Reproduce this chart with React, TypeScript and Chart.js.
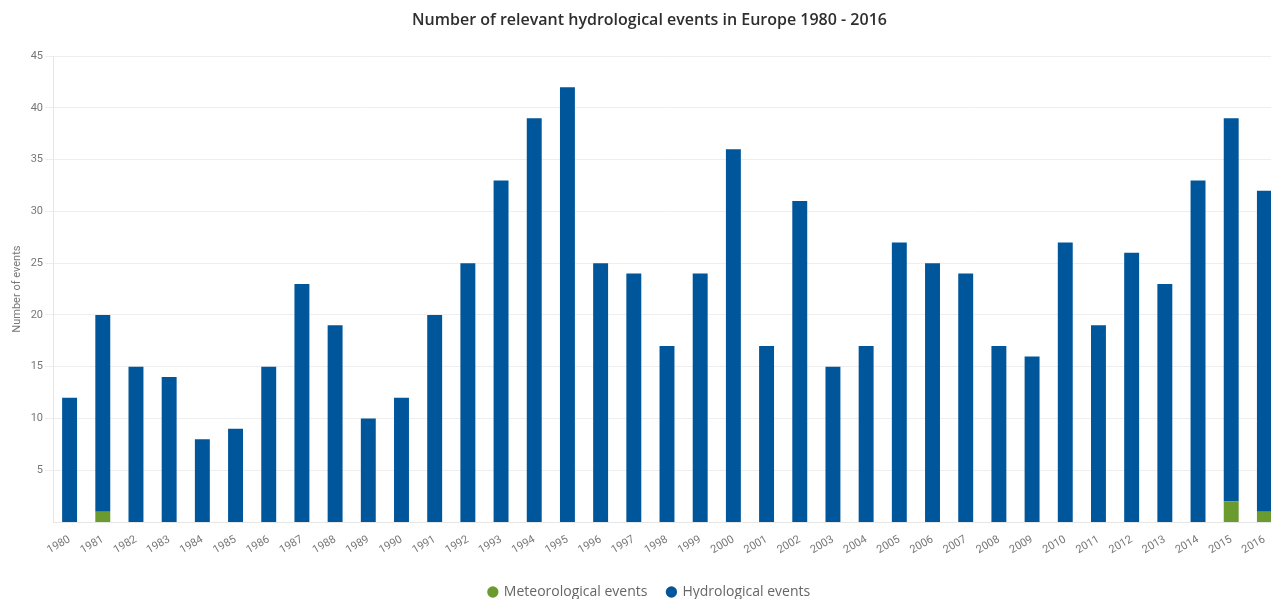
import React, { useEffect, useRef } from "react";
import { Chart, registerables } from "chart.js";

Chart.register(...registerables);

const years = [
  "1980","1981","1982","1983","1984","1985","1986","1987","1988","1989",
  "1990","1991","1992","1993","1994","1995","1996","1997","1998","1999",
  "2000","2001","2002","2003","2004","2005","2006","2007","2008","2009",
  "2010","2011","2012","2013","2014","2015","2016",
];

const meteorological = [
  0,1,0,0,0,0,0,0,0,0,
  0,0,0,0,0,0,0,0,0,0,
  0,0,0,0,0,0,0,0,0,0,
  0,0,0,0,0,2,1,
];

const hydrological = [
  12,19,15,14,8,9,15,23,19,10,
  12,20,25,33,39,42,25,24,17,24,
  36,17,31,15,17,27,25,24,17,16,
  27,19,26,23,33,37,31,
];

const yTicks = [5, 10, 15, 20, 25, 30, 35, 40, 45];

const titleText = "Number of relevant hydrological events in Europe 1980 - 2016";
const yTitle = "Number of events";

export default function App() {
  const ref = useRef<HTMLCanvasElement | null>(null);

  useEffect(() => {
    if (!ref.current) return;
    const chart = new Chart(ref.current, {
      type: "bar",
      data: {
        labels: years,
        datasets: [
          {
            label: "Meteorological events",
            data: meteorological,
            backgroundColor: "#6b9a2e",
            borderWidth: 0,
            barPercentage: 0.45,
            categoryPercentage: 1,
          },
          {
            label: "Hydrological events",
            data: hydrological,
            backgroundColor: "#00569b",
            borderWidth: 0,
            barPercentage: 0.45,
            categoryPercentage: 1,
          },
        ],
      },
      options: {
        animation: false,
        responsive: false,
        maintainAspectRatio: false,
        layout: { padding: { left: 18, right: 19, top: 0, bottom: -10 } },
        plugins: {
          title: {
            display: true,
            text: titleText,
            color: "#2e2e2e",
            font: { family: "Open Sans", size: 16, weight: 600 },
            padding: { top: 10.5, bottom: 26.5 },
          },
          legend: {
            position: "bottom",
            labels: {
              usePointStyle: true,
              pointStyle: "circle",
              boxWidth: 8,
              boxHeight: 8,
              padding: 20,
              color: "#666",
              font: { family: "Open Sans", size: 14 },
            },
          },
          tooltip: { enabled: false },
        },
        scales: {
          x: {
            stacked: true,
            grid: { display: false },
            border: { color: "#e6e6e6" },
            ticks: {
              color: "#777",
              font: { family: "Roboto", size: 11 },
              minRotation: 30,
              maxRotation: 30,
              autoSkip: false,
              padding: 3,
            },
            afterFit: (s: any) => {
              s.height = 43;
            },
          },
          y: {
            stacked: true,
            min: 0,
            max: 45,
            afterBuildTicks: (s: any) => {
              s.ticks = yTicks.map((v) => ({ value: v }));
            },
            grid: { color: "#eeeeee", tickLength: 8 },
            border: { color: "#e6e6e6" },
            ticks: {
              color: "#777",
              font: { family: "Roboto", size: 11 },
              padding: 2,
            },
            title: {
              display: true,
              text: yTitle,
              color: "#777",
              font: { family: "Roboto", size: 11 },
              padding: { top: -7, bottom: 0 },
            },
            afterFit: (s: any) => {
              s.width = 35;
            },
          },
        },
      },
    });
    return () => chart.destroy();
  }, []);

  return (
    <div style={{ position: "fixed", left: 0, top: 0, width: 1271, height: 599, overflow: "hidden", background: "#fff" }}>
      <canvas ref={ref} width={1300} height={599} style={{ display: "block", width: 1300, height: 599 }} />
    </div>
  );
}
